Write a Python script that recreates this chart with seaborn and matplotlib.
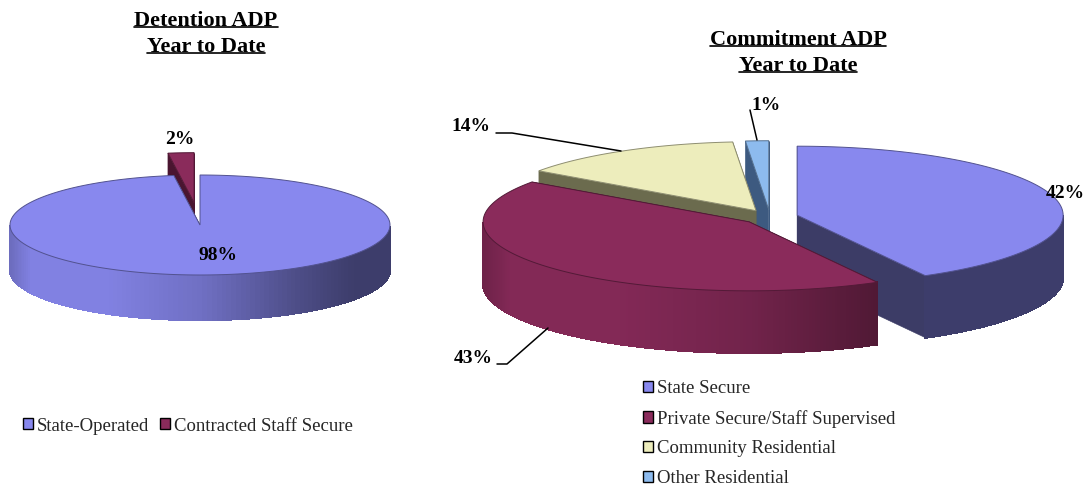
import numpy as np
import matplotlib
matplotlib.use('Agg')
import matplotlib.pyplot as plt
from matplotlib.patches import Patch
import seaborn as sns

# Data
detention_labels = ['State-Operated', 'Contracted Staff Secure']
detention_values = [97.8, 2.2]
commitment_labels = ['State Secure', 'Private Secure/Staff Supervised',
                     'Community Residential', 'Other Residential']
commitment_values = [42.0, 42.8, 13.8, 1.4]

# Colours
top_colors = ['#8888EE', '#8A2B5B', '#EDEDBC', '#8DBBEE']
cut_colors = ['#3C3C66', '#4A1530', '#6B6B4E', '#3D5A80']

sns.set_theme(style='white')
plt.rcParams['font.family'] = ['Liberation Serif', 'DejaVu Serif']


def rim(angle, cx, cy, rx, ry):
    # angle in degrees, clockwise from 12 o'clock
    a = np.radians(angle)
    return cx + rx * np.sin(a), cy - ry * np.cos(a)


def wall_shade(angle):
    # darker to the right, like the lit side of the original
    t = (np.sin(np.radians(angle)) + 1) / 2
    return np.interp(t, [0, .05, .25, .5, .75, .9, 1], [.8, .95, .95, .82, .57, .45, .45])


def draw_slice(ax, start, stop, color, cut, cx, cy, rx, ry, depth, flat=None):
    angles = np.linspace(start, stop, 240)
    xs, ys = rim(angles, cx, cy, rx, ry)

    # cut faces first, top face hides whatever should not show
    for a in (start, stop):
        x, y = rim(a, cx, cy, rx, ry)
        ax.fill([cx, x, x, cx], [cy, y, y + depth, cy + depth], color=cut, lw=0.4)

    # outer wall, only the part that faces the viewer
    front = angles[(angles >= 90) & (angles <= 270)]
    base = np.array(matplotlib.colors.to_rgb(color))
    for a0, a1 in zip(front[:-1], front[1:]):
        x0, y0 = rim(a0, cx, cy, rx, ry)
        x1, y1 = rim(a1, cx, cy, rx, ry)
        shade = base * (flat if flat else wall_shade((a0 + a1) / 2))
        ax.fill([x0, x1, x1, x0], [y0, y1, y1 + depth, y0 + depth], facecolor=shade,
                edgecolor=shade, lw=1.0, antialiased=False)

    edge = base * 0.6
    ax.fill(np.r_[cx, xs], np.r_[cy, ys], facecolor=color, edgecolor=edge, lw=0.7)


def draw_pie(ax, values, explode, order, cx, cy, rx, ry, depth, flat_walls=()):
    ends = np.cumsum(values) / np.sum(values) * 360
    starts = np.r_[0, ends[:-1]]
    for i in order:
        mid = np.radians((starts[i] + ends[i]) / 2)
        sx = cx + explode[i] * np.sin(mid)
        sy = cy - explode[i] * np.cos(mid) * ry / rx
        draw_slice(ax, starts[i], ends[i], top_colors[i], cut_colors[i], sx, sy, rx, ry, depth,
                   flat=0.45 if i in flat_walls else None)


def underlined(ax, x, y, text):
    t = ax.text(x, y, text, ha='center', va='baseline', fontsize=16, fontweight='bold', color='black')
    box = t.get_window_extent(fig.canvas.get_renderer()).transformed(ax.transData.inverted())
    ax.plot([box.x0, box.x1], [y + 1.5, y + 1.5], color='black', lw=1.2)


fig = plt.figure(figsize=(10.88, 4.86), dpi=100)
ax = fig.add_axes([0, 0, 1, 1])
ax.set_xlim(0, 1088)
ax.set_ylim(486, 0)
ax.axis('off')
sns.despine(ax=ax, left=True, bottom=True)

# pies
draw_pie(ax, detention_values, [0, 85], [1, 0], 200, 225, 190, 50, 45)
draw_pie(ax, commitment_values, [28, 28, 28, 28], [3, 2, 0, 1], 770, 217, 266, 69, 62, flat_walls=(0,))

# titles
underlined(ax, 206, 26, 'Detention ADP')
underlined(ax, 206, 52, 'Year to Date')
underlined(ax, 798, 45, 'Commitment ADP')
underlined(ax, 798, 71, 'Year to Date')

# value labels
label_kw = dict(ha='center', va='center', fontsize=14, fontweight='bold', color='black')
for x, y, v in [(218, 255, detention_values[0]), (180, 139, detention_values[1]),
                (1065, 193, commitment_values[0]), (473, 358, commitment_values[1]),
                (471, 126, commitment_values[2]), (766, 105, commitment_values[3])]:
    ax.text(x, y, f'{v:.0f}%', **label_kw)

# leader lines
ax.plot([496, 512, 621], [133, 133, 151], color='black', lw=1.1)
ax.plot([750, 757], [110, 140], color='black', lw=1.1)
ax.plot([497, 507, 548], [364, 364, 328], color='black', lw=1.1)

# legends
left_handles = [Patch(facecolor=c, edgecolor='black', lw=1) for c in top_colors[:2]]
leg = ax.legend(left_handles, detention_labels, ncol=2, loc='center left',
                bbox_to_anchor=(23, 426), bbox_transform=ax.transData, frameon=False,
                fontsize=13.5, handlelength=0.53, handleheight=0.53, handletextpad=0.22,
                columnspacing=0.58, borderpad=0, borderaxespad=0)
ax.add_artist(leg)
right_handles = [Patch(facecolor=c, edgecolor='black', lw=1) for c in top_colors]
ax.legend(right_handles, commitment_labels, loc='upper left',
          bbox_to_anchor=(643, 380), bbox_transform=ax.transData, frameon=False,
          fontsize=13.5, handlelength=0.53, handleheight=0.53, handletextpad=0.22,
          labelspacing=0.68, borderpad=0, borderaxespad=0)

fig.savefig('out.png', dpi=100)
